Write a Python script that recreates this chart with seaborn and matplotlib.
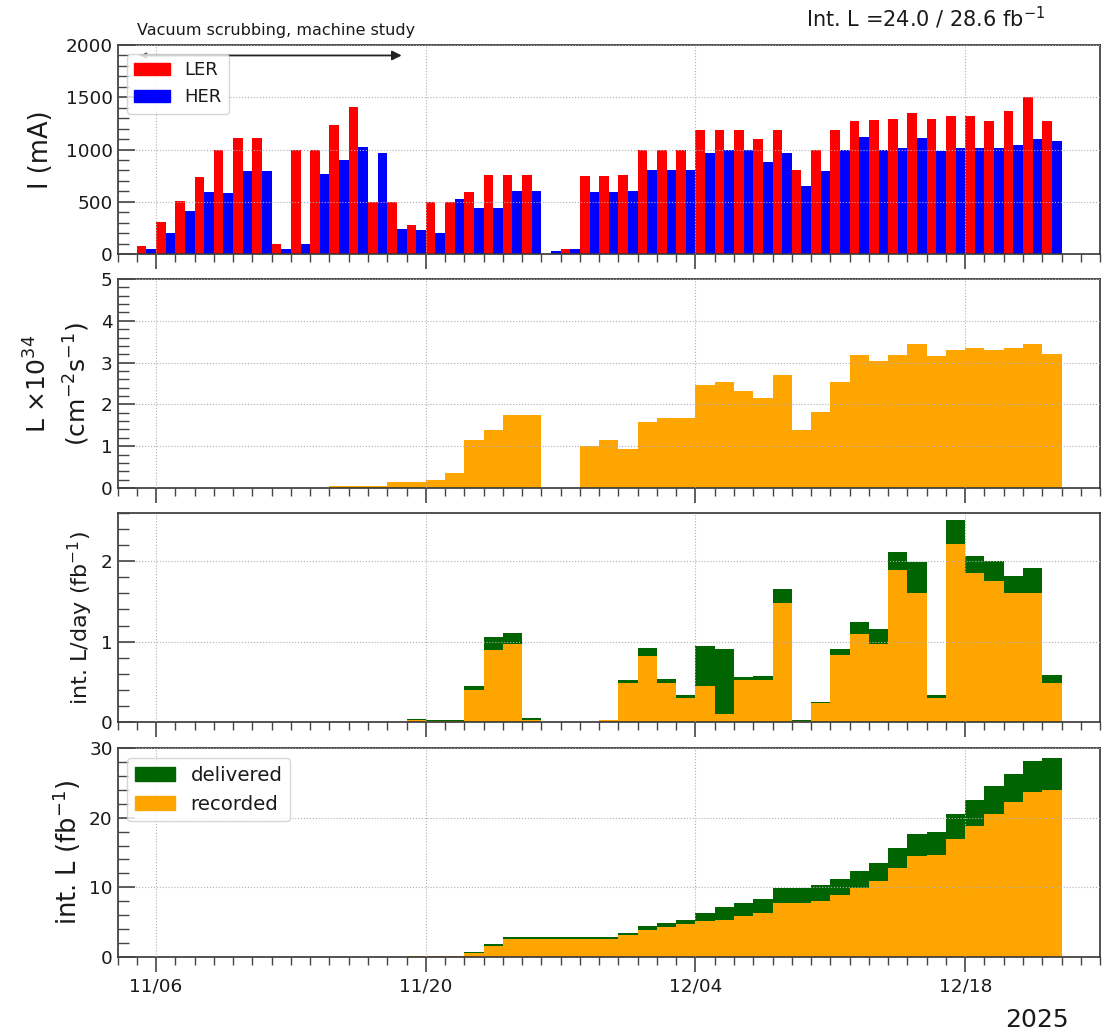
import numpy as np
import pandas as pd
import matplotlib
matplotlib.use('Agg')
import matplotlib.pyplot as plt
import matplotlib.dates as mdates
from matplotlib.patches import Patch
import seaborn as sns

# ---------------- data ----------------
dates = pd.date_range('2025-11-05', '2025-12-22', freq='D')   # one bin per day
end_date = pd.Timestamp('2025-12-23')

ler_current = [80, 310, 510, 740, 1000, 1110, 1110, 100, 1000, 1000, 1230, 1410,
               500, 500, 280, 500, 500, 590, 760, 760, 760, 0, 50, 750,
               750, 760, 1000, 1000, 1000, 1190, 1190, 1190, 1100, 1190, 800, 1000,
               1190, 1270, 1280, 1290, 1350, 1290, 1320, 1320, 1270, 1370, 1500, 1270]
her_current = [50, 205, 410, 590, 580, 790, 790, 50, 100, 770, 900, 1020,
               970, 240, 230, 200, 530, 440, 440, 600, 600, 25, 50, 590,
               590, 600, 800, 800, 800, 970, 1000, 1000, 880, 970, 650, 790,
               1000, 1120, 1000, 1010, 1110, 990, 1010, 1010, 1010, 1040, 1100, 1080]
peak_lumi = [0, 0, 0, 0, 0, 0, 0, 0, 0, 0, 0.04, 0.04,
             0.04, 0.14, 0.14, 0.2, 0.37, 1.16, 1.39, 1.74, 1.74, 0, 0, 1.0,
             1.16, 0.94, 1.58, 1.67, 1.67, 2.47, 2.54, 2.31, 2.16, 2.70, 1.39, 1.81,
             2.54, 3.18, 3.05, 3.18, 3.44, 3.15, 3.31, 3.34, 3.31, 3.34, 3.44, 3.21]
daily_recorded = [0, 0, 0, 0, 0, 0, 0, 0, 0, 0, 0, 0,
                  0, 0, 0.03, 0.017, 0.017, 0.40, 0.89, 0.97, 0.025, 0, 0, 0,
                  0.02, 0.49, 0.82, 0.49, 0.30, 0.45, 0.10, 0.52, 0.52, 1.48, 0.017, 0.235,
                  0.84, 1.10, 0.97, 1.89, 1.61, 0.30, 2.21, 1.85, 1.75, 1.60, 1.60, 0.49]
daily_delivered = [0, 0, 0, 0, 0, 0, 0, 0, 0, 0, 0, 0,
                   0, 0, 0.035, 0.02, 0.02, 0.45, 1.06, 1.11, 0.05, 0, 0, 0,
                   0.025, 0.52, 0.92, 0.54, 0.34, 0.94, 0.91, 0.555, 0.57, 1.66, 0.02, 0.25,
                   0.91, 1.24, 1.16, 2.11, 1.99, 0.34, 2.51, 2.07, 2.00, 1.82, 1.92, 0.59]
int_recorded = [0, 0, 0, 0, 0, 0, 0, 0, 0, 0, 0, 0,
                0, 0, 0.1, 0.15, 0.2, 0.58, 1.63, 2.6, 2.6, 2.6, 2.6, 2.6,
                2.6, 3.17, 3.94, 4.33, 4.76, 5.1, 5.3, 5.87, 6.25, 7.8, 7.8, 7.98,
                8.94, 9.95, 10.9, 12.8, 14.5, 14.7, 17.0, 18.75, 20.5, 22.2, 23.75, 24.0]
int_delivered = [0, 0, 0, 0, 0, 0, 0, 0, 0, 0, 0, 0,
                 0, 0, 0.1, 0.15, 0.2, 0.67, 1.83, 2.93, 2.93, 2.93, 2.93, 2.93,
                 2.93, 3.5, 4.5, 4.9, 5.3, 6.25, 7.2, 7.8, 8.37, 9.95, 9.95, 10.3,
                 11.25, 12.4, 13.56, 15.7, 17.6, 18.0, 20.5, 22.6, 24.5, 26.25, 28.2, 28.6]

major_tick_dates = ['2025-11-06', '2025-11-20', '2025-12-04', '2025-12-18']
x_range = ['2025-11-04', '2025-12-25']
total_text = 'Int. L =24.0 / 28.6 fb$^{-1}$'
period_text = 'Vacuum scrubbing, machine study'
year_text = '2025'

# ---------------- style ----------------
sns.set_style('white')
plt.rcParams['font.family'] = ['DejaVu Sans']
plt.rcParams['text.color'] = '#1a1a1a'
plt.rcParams['axes.labelcolor'] = '#1a1a1a'
plt.rcParams['axes.edgecolor'] = '#333333'
plt.rcParams['axes.linewidth'] = 1.2

C_LER, C_HER = '#ff0000', '#0000ff'
C_REC, C_DEL = '#ffa500', '#006400'

edges = [float(v) for v in mdates.date2num(list(dates) + [end_date])]
centers = mdates.date2num(dates) + 0.5
n = len(dates)

fig = plt.figure(figsize=(11.15, 10.35), dpi=100)
L, W, H = 0.1054, 0.8812, 0.2019
bottoms = [0.7546, 0.5285, 0.3024, 0.0754]
axes = []
for i, b in enumerate(bottoms):
    ax = fig.add_axes([L, b, W, H], sharex=axes[0] if axes else None)
    axes.append(ax)
ax1, ax2, ax3, ax4 = axes

# panel 1: beam currents
df_cur = pd.DataFrame({'day': np.concatenate([centers, centers]),
                       'current': ler_current + her_current,
                       'ring': ['LER'] * n + ['HER'] * n})
sns.histplot(data=df_cur, x='day', weights='current', hue='ring',
             hue_order=['LER', 'HER'], multiple='dodge', bins=edges, shrink=1,
             palette={'LER': C_LER, 'HER': C_HER}, alpha=1, linewidth=0,
             legend=False, ax=ax1)
ax1.set_ylim(0, 2000)
ax1.set_yticks([0, 500, 1000, 1500, 2000])
ax1.yaxis.set_minor_locator(plt.MultipleLocator(100))
ax1.set_ylabel('I (mA)', fontsize=18.5, labelpad=8)

# panel 2: peak luminosity
sns.histplot(x=centers, weights=peak_lumi, bins=edges, element='step', fill=True,
             color=C_REC, alpha=1, linewidth=0, ax=ax2)
ax2.set_ylim(0, 5)
ax2.set_yticks([0, 1, 2, 3, 4, 5])
ax2.yaxis.set_minor_locator(plt.MultipleLocator(0.2))
ax2.set_ylabel('L ×10$^{34}$\n(cm$^{-2}$s$^{-1}$)', fontsize=18, linespacing=1.45, labelpad=6)

# panel 3: daily integrated luminosity
sns.histplot(x=centers, weights=daily_delivered, bins=edges, element='step', fill=True,
             color=C_DEL, alpha=1, linewidth=0, ax=ax3)
sns.histplot(x=centers, weights=daily_recorded, bins=edges, element='step', fill=True,
             color=C_REC, alpha=1, linewidth=0, ax=ax3)
ax3.set_ylim(0, 2.6)
ax3.set_yticks([0, 1, 2])
ax3.yaxis.set_minor_locator(plt.MultipleLocator(0.2))
ax3.set_ylabel('int. L/day (fb$^{-1}$)', fontsize=16)

# panel 4: cumulative integrated luminosity
sns.histplot(x=centers, weights=int_delivered, bins=edges, element='step', fill=True,
             color=C_DEL, alpha=1, linewidth=0, ax=ax4)
sns.histplot(x=centers, weights=int_recorded, bins=edges, element='step', fill=True,
             color=C_REC, alpha=1, linewidth=0, ax=ax4)
ax4.set_ylim(0, 30)
ax4.set_yticks([0, 10, 20, 30])
ax4.yaxis.set_minor_locator(plt.MultipleLocator(2))
ax4.set_ylabel('int. L (fb$^{-1}$)', fontsize=18.5)

# common x axis
xlo, xhi = mdates.date2num(pd.to_datetime(x_range))
for ax in axes:
    ax.set_xlim(xlo, xhi)
    ax.set_xlabel('')
    ax.xaxis.set_major_locator(plt.FixedLocator(mdates.date2num(pd.to_datetime(major_tick_dates))))
    ax.xaxis.set_minor_locator(mdates.DayLocator())
    ax.xaxis.set_major_formatter(mdates.DateFormatter('%m/%d'))
    ax.grid(True, which='major', linestyle=':', color='#b0b0b0', linewidth=0.8)
    ax.set_axisbelow(False)
    ax.tick_params(axis='y', which='both', direction='in', colors='#444444', labelcolor='#1a1a1a',
                   labelsize=13.3, left=True, right=False)
    ax.tick_params(axis='y', which='major', length=12, width=1.2)
    ax.tick_params(axis='y', which='minor', length=8, width=1.0)
    ax.tick_params(axis='x', which='both', direction='out', colors='#444444', labelcolor='#1a1a1a',
                   labelsize=13.3, bottom=True, top=False)
    ax.tick_params(axis='x', which='major', length=11, width=1.2)
    ax.tick_params(axis='x', which='minor', length=6, width=1.0)
    for s in ax.spines.values():
        s.set_visible(True)
        s.set_color('#333333')
        s.set_linewidth(1.2)
for ax in axes[:-1]:
    ax.tick_params(axis='x', labelbottom=False)

# annotations
arrow_y = 1900
ax1.annotate('', xy=(mdates.date2num(pd.Timestamp('2025-11-18')) + 0.75, arrow_y),
             xytext=(mdates.date2num(pd.Timestamp('2025-11-05')) + 0.2, arrow_y),
             arrowprops=dict(arrowstyle='-|>', color='#222222', lw=1.3, mutation_scale=14,
                             shrinkA=0, shrinkB=0))
ax1.annotate('', xy=(mdates.date2num(pd.Timestamp('2025-11-05')) + 0.2, arrow_y),
             xytext=(mdates.date2num(pd.Timestamp('2025-11-06')), arrow_y),
             arrowprops=dict(arrowstyle='->', color='#222222', lw=1.0, mutation_scale=8,
                             shrinkA=0, shrinkB=0))

leg1 = ax1.legend(handles=[Patch(color=C_LER, label='LER'), Patch(color=C_HER, label='HER')],
                  loc='upper left', fontsize=13, frameon=True, fancybox=True, framealpha=0.8,
                  edgecolor='#cccccc')
leg1.set_zorder(10)
leg4 = ax4.legend(handles=[Patch(color=C_DEL, label='delivered'), Patch(color=C_REC, label='recorded')],
                  loc='upper left', fontsize=14.2, frameon=True, fancybox=True, framealpha=0.8,
                  edgecolor='#cccccc')

fig.text(137 / 1115, 1 - 31 / 1035, period_text, fontsize=11.5, va='center', ha='left')
fig.text(806 / 1115, 1 - 18 / 1035, total_text, fontsize=15, va='center', ha='left')
fig.text(1005 / 1115, 1 - 1020 / 1035, year_text, fontsize=18, va='center', ha='left')

fig.savefig('out.png', dpi=100)
